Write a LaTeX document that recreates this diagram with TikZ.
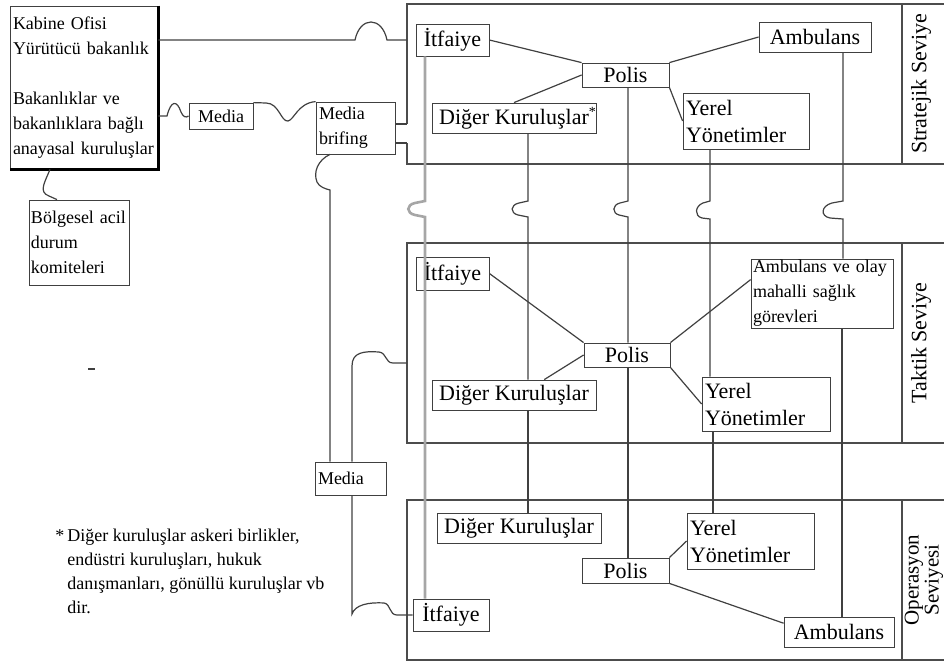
\documentclass[tikz,border=0pt]{standalone}
\usepackage{fontspec}
\setmainfont{Liberation Serif}
\begin{document}
\begin{tikzpicture}[
        x=0.5pt, y=-0.5pt,
        unit/.style={draw=black!75, font=\fontsize{11}{13.5}\selectfont, inner xsep=1.5pt, inner ysep=0.5pt},
        small/.style={draw=black!75, font=\fontsize{9}{12.5}\selectfont, inner xsep=1.5pt, inner ysep=0.5pt, align=left},
        note/.style={font=\fontsize{9}{12}\selectfont, inner sep=0pt, align=left},
        level/.style={font=\fontsize{11}{13}\selectfont, rotate=90},
        link/.style={draw=black!75, line width=0.6pt},
        frame/.style={draw=black!70, line width=0.8pt},
        fire/.style={draw=black!35, line width=1.3pt}
    ]
        \useasboundingbox (0,0) rectangle (944,664);
        % levels
        \draw[frame] (407,124) |- (902,4) -- (902,164) -| (407,143);
        \draw[frame] (902,4) -- (944,4) (902,164) -- (944,164);
        \draw[frame] (407,243) rectangle (902,443);
        \draw[frame] (902,243) -- (944,243) (902,443) -- (944,443);
        \draw[frame] (407,500) rectangle (902,660);
        \draw[frame] (902,500) -- (944,500) (902,660) -- (944,660);
        \coordinate (strIn) at (407,40);
        \coordinate (tacIn) at (407,363);
        \node[level] (strL) at (921,84) {Stratejik Seviye};
        \node[level] (takL) at (921,343) {Taktik Seviye};
        \node[level, align=center, font=\fontsize{10.5}{10}\selectfont] (opL) at (924,580) {Operasyon\\Seviyesi};

        % left side
        \node[small, text width=71pt, minimum height=81.5pt] (kab) at (84,87.5) {Kabine Ofisi\\Yürütücü bakanlık\\[12.5pt]Bakanlıklar ve\\bakanlıklara bağlı\\anayasal kuruluşlar};
        \draw[line width=1.2pt] (kab.north east) -- (kab.south east) -- (kab.south west);
        \node[small, text width=48pt, inner xsep=1pt, minimum height=42.5pt] (bol) at (79,242.5) {Bölgesel acil\\durum\\komiteleri};
        \node[small, minimum width=32pt, minimum height=13pt] (med1) at (221,116) {Media};
        \node[small, text width=36.5pt, minimum height=26pt] (brf) at (355.5,128) {Media\\brifing};
        \node[small, text width=32.5pt, minimum height=16.5pt] (med2) at (350.5,478.5) {Media};
        \node[note, anchor=north west] (fn) at (67,529) {\llap{*\,}Diğer kuruluşlar askeri birlikler,\\endüstri kuruluşları, hukuk\\danışmanları, gönüllü kuruluşlar vb\\dir.};

        % strategic
        \node[unit, minimum width=36.5pt, minimum height=16pt] (itfS) at (452.5,40) {İtfaiye};
        \node[unit, minimum width=43.5pt, minimum height=12pt] (polS) at (625.5,75) {Polis};
        \node[unit, minimum width=56pt, minimum height=15pt] (ambS) at (815,37) {Ambulans};
        \node[unit, minimum width=82pt, minimum height=15pt] (digS) at (514,118) {Diğer Kuruluşlar\rlap{\raisebox{4pt}{\scriptsize*}}};
        \node[unit, text width=60pt, align=left, minimum height=28pt] (yerS) at (746,121) {Yerel\\Yönetimler};

        % tactical
        \node[unit, minimum width=36.5pt, minimum height=16.5pt] (itfT) at (452.5,273.5) {İtfaiye};
        \node[unit, minimum width=43pt, minimum height=12pt] (polT) at (627,355) {Polis};
        \node[small, text width=69pt, inner xsep=1pt, minimum height=34.5pt] (ambT) at (822,293.5) {Ambulans ve olay\\mahalli sağlık\\görevleri};
        \node[unit, minimum width=82pt, minimum height=15pt] (digT) at (514,395) {Diğer Kuruluşlar};
        \node[unit, text width=61pt, align=left, minimum height=27pt] (yerT) at (766,404) {Yerel\\Yönetimler};

        % operational
        \node[unit, minimum width=82pt, minimum height=15pt] (digO) at (519,528) {Diğer Kuruluşlar};
        \node[unit, text width=60.5pt, align=left, minimum height=28pt] (yerO) at (750.5,541) {Yerel\\Yönetimler};
        \node[unit, minimum width=43.5pt, minimum height=12.5pt] (polO) at (625.5,570.5) {Polis};
        \node[unit, minimum width=38pt, minimum height=16pt] (itfO) at (451,615) {İtfaiye};
        \node[unit, minimum width=55pt, minimum height=15pt] (ambO) at (839,632) {Ambulans};

        % left connectors
        \draw[link] (kab.east |- itfS.west) -- (355,40) .. controls (360,16) and (382,16) .. (387,40) -- (strIn);
        \draw[link] (kab.east |- med1.west) -- (167,116) .. controls (171,100) and (177,100) .. (181,112) .. controls (183,117) and (186,118) .. (med1.west);
        \draw[link] (med1.north east) -- (266,103) .. controls (279,103) and (281,122) .. (288,121) .. controls (294,120) and (298,103) .. (brf.north west);
        \draw[link] (brf.east |- 0,124) -- (407,124);
        \draw[link] (brf.east |- 0,143) -- (407,143);
        \draw[link] (330,0 |- brf.south) .. controls (318,160) and (313,172) .. (317,182) .. controls (319,187) and (326,189) .. (330,190) -- (330,0 |- med2.north);
        \draw[link] (352,0 |- med2.north) -- (352,366) .. controls (352,352) and (364,351) .. (379,352) .. controls (387,353) and (385,363) .. (393,363) -- (tacIn);
        \draw[link] (352,0 |- med2.south) -- (352,614) .. controls (355,605) and (368,602) .. (384,603) .. controls (391,604) and (389,615) .. (397,615) -- (itfO.west);
        \draw[link] (50,0 |- kab.south) .. controls (45,182) and (38,192) .. (49,196) -- (57,0 |- bol.north);
        \draw[link] (88,369) -- (95,369);

        % links in levels
        \draw[link] (itfS.east) -- (polS.north west);
        \draw[link] (ambS.west) -- (polS.north east);
        \draw[link] (polS.west) -- (digS.north);
        \draw[link] (polS.south east) -- (yerS.west);
        \draw[link] (itfT.east) -- (polT.north west);
        \draw[link] (ambT.169) -- (polT.north east);
        \draw[link] (polT.west) -- (digT.27);
        \draw[link] (polT.south east) -- (yerT.west);
        \draw[link] (polO.north east) -- (yerO.west);
        \draw[link] (polO.south east) -- (ambO.171);

        % links between levels
        \draw[fire] (425,0 |- itfS.south) -- (425,201) -- (415,203) .. controls (406,205) and (406,213) .. (415,215) -- (425,217) -- (425,0 |- itfO.north);
        \draw[link] (528,0 |- digS.south) -- (528,201) -- (519,203) .. controls (510,205) and (510,213) .. (518,215) -- (528,217) -- (528,0 |- digT.north);
        \draw[link] (528,0 |- digT.south) -- (528,0 |- digO.north);
        \draw[link] (628,0 |- polS.south) -- (628,201) -- (620,203) .. controls (612,205) and (612,213) .. (619,215) -- (628,217) -- (628,0 |- polT.north);
        \draw[link] (628,0 |- polT.south) -- (628,0 |- polO.north);
        \draw[link] (710,0 |- yerS.south) -- (710,201) -- (703,203) .. controls (695,206) and (694,216) .. (702,218) -- (710,219) -- (710,0 |- yerT.north);
        \draw[link] (713,0 |- yerT.south) -- (713,0 |- yerO.north);
        \draw[link] (843,0 |- ambS.south) -- (843,201) -- (832,203) .. controls (821,206) and (820,216) .. (830,218) -- (843,219) -- (843,0 |- ambT.north);
        \draw[link] (842,0 |- ambT.south) -- (842,0 |- ambO.north);
    \end{tikzpicture}
\end{document}
